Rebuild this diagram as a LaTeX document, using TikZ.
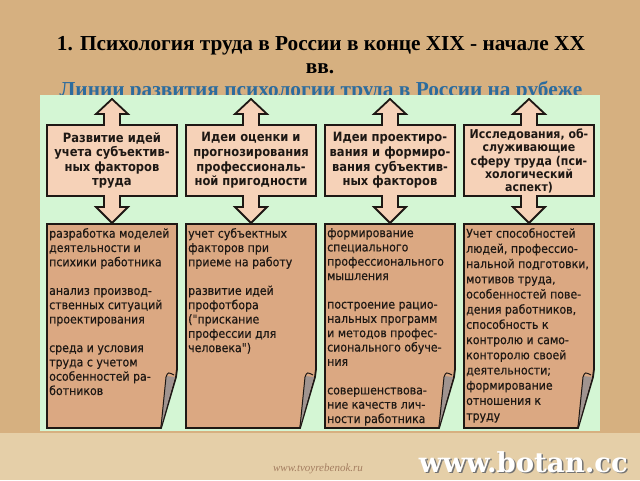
\documentclass[tikz,border=0pt]{standalone}
\usepackage{fontspec}
\setmainfont{DejaVu Sans}
\newfontfamily\titlefont{Liberation Serif}
\newfontfamily\markfont{DejaVu Serif}
\newfontfamily\headfont[FakeStretch=0.9]{DejaVu Sans}
\newfontfamily\pagefont[FakeStretch=0.9,FakeBold=0.4]{DejaVu Sans}

\definecolor{bgtan}{RGB}{214,176,128}
\definecolor{bgpale}{RGB}{229,207,168}
\definecolor{panelgreen}{RGB}{212,246,212}
\definecolor{headfill}{RGB}{246,210,184}
\definecolor{bodyfill}{RGB}{219,168,130}
\definecolor{linkblue}{RGB}{44,108,158}
\definecolor{curlgray}{RGB}{160,148,144}
\definecolor{inkdark}{RGB}{30,24,20}

\tikzset{
  titletext/.style={font=\titlefont\bfseries\fontsize{21.3}{24}\selectfont, anchor=base, inner sep=0pt},
  headtext/.style={align=center, font=\headfont\bfseries\fontsize{12.8}{14.6}\selectfont, text=inkdark, inner sep=0pt},
  bodytext/.style={align=left, anchor=north west, font=\pagefont\fontsize{12.2}{14.3}\selectfont, text=inkdark, inner sep=0pt},
  outline/.style={draw=inkdark, line width=1.8pt, line join=miter},
}

\begin{document}
\begin{tikzpicture}[x=1pt,y=-1pt]
  % Background
  \useasboundingbox (0,0) rectangle (640,480);
  \fill[bgtan] (0,0) rectangle (640,480);
  \fill[bgpale] (0,433) rectangle (640,480);

  % Title lines
  \node[titletext] (title1) at (321,50) {1. Психология труда в России в конце XIX - начале XX};
  \node[titletext] (title2) at (320,73) {вв.};
  \node[titletext, text=linkblue] (subtitle) at (321,96) {Линии развития психологии труда в России на рубеже};

  % Green panel (covers the bottom of the subtitle)
  \fill[panelgreen] (40,95) rectangle (600,431);

  % Header boxes with the two block arrows
  \foreach \l in {47,186,325,464}{
    \pgfmathsetmacro\c{\l+65}
    \pgfmathsetmacro\r{\l+130}
    \filldraw[outline, fill=headfill] (\c,99) -- (\c+16,114) -- (\c+8,114) -- (\c+8,125)
      -- (\r,125) -- (\r,196) -- (\c+8,196) -- (\c+8,207) -- (\c+16,207) -- (\c,223)
      -- (\c-16,207) -- (\c-8,207) -- (\c-8,196) -- (\l,196) -- (\l,125) -- (\c-8,125)
      -- (\c-8,114) -- (\c-16,114) -- cycle;
  }

  % Page boxes with a curled corner
  \foreach \l in {47,186,325,464}{
    \pgfmathsetmacro\r{\l+130}
    \filldraw[outline, fill=bodyfill] (\l,224) -- (\r,224) -- (\r,369) -- (\r-1,377) -- (\r-16,428) -- (\l,428) -- cycle;
    \fill[curlgray] (\r-11,376) -- (\r-2,377) -- (\r-16,427) -- cycle;
    \draw[inkdark, line width=1pt] (\r-16,427) -- (\r-11,377) .. controls (\r-9,372) .. (\r-3,375);
  }

  % Header texts
  \node[headtext] (head1) at (112,160.5) {Развитие идей\\учета субъектив-\\ных факторов\\труда};
  \node[headtext] (head2) at (251,160.5) {Идеи оценки и\\прогнозирования\\профессиональ-\\ной пригодности};
  \node[headtext] (head3) at (390,160.5) {Идеи проектиро-\\вания и формиро-\\вания субъектив-\\ных факторов};
  \node[headtext, font=\headfont\bfseries\fontsize{12.2}{13.2}\selectfont] (head4) at (529,161) {Исследования, об-\\служивающие\\сферу труда (пси-\\хологический\\аспект)};

  % Page texts
  \node[bodytext] (body1) at (49,228) {разработка моделей\\деятельности и\\психики работника\\[14.3pt]анализ производ-\\ственных ситуаций\\проектирования\\[14.3pt]среда и условия\\труда с учетом\\особенностей ра-\\ботников};
  \node[bodytext] (body2) at (188,228) {учет субъектных\\факторов при\\приеме на работу\\[14.3pt]развитие идей\\профотбора\\("прискание\\профессии для\\человека")};
  \node[bodytext] (body3) at (327,228) {формирование\\специального\\профессионального\\мышления\\[14.3pt]построение рацио-\\нальных программ\\и методов профес-\\сионального обуче-\\ния\\[14.3pt]совершенствова-\\ние качеств лич-\\ности работника};
  \node[bodytext, font=\pagefont\fontsize{12.2}{15.2}\selectfont] (body4) at (466,228) {Учет способностей\\людей, профессио-\\нальной подготовки,\\мотивов труда,\\особенностей пове-\\дения работников,\\способность к\\контролю и само-\\конторолю своей\\деятельности;\\формирование\\отношения к\\труду};

  % Site marks
  \node[font=\markfont\bfseries\fontsize{27.5}{30}\selectfont, text=black!55, anchor=base east, inner sep=0pt] (markshadow) at (629.5,473.5) {www.botan.cc};
  \node[font=\markfont\bfseries\fontsize{27.5}{30}\selectfont, text=white, anchor=base east, inner sep=0pt] (mark) at (628,472) {www.botan.cc};
  \node[font=\titlefont\itshape\fontsize{11}{12}\selectfont, text=bodyfill!75!black] (site) at (318,469) {www.tvoyrebenok.ru};
\end{tikzpicture}
\end{document}
